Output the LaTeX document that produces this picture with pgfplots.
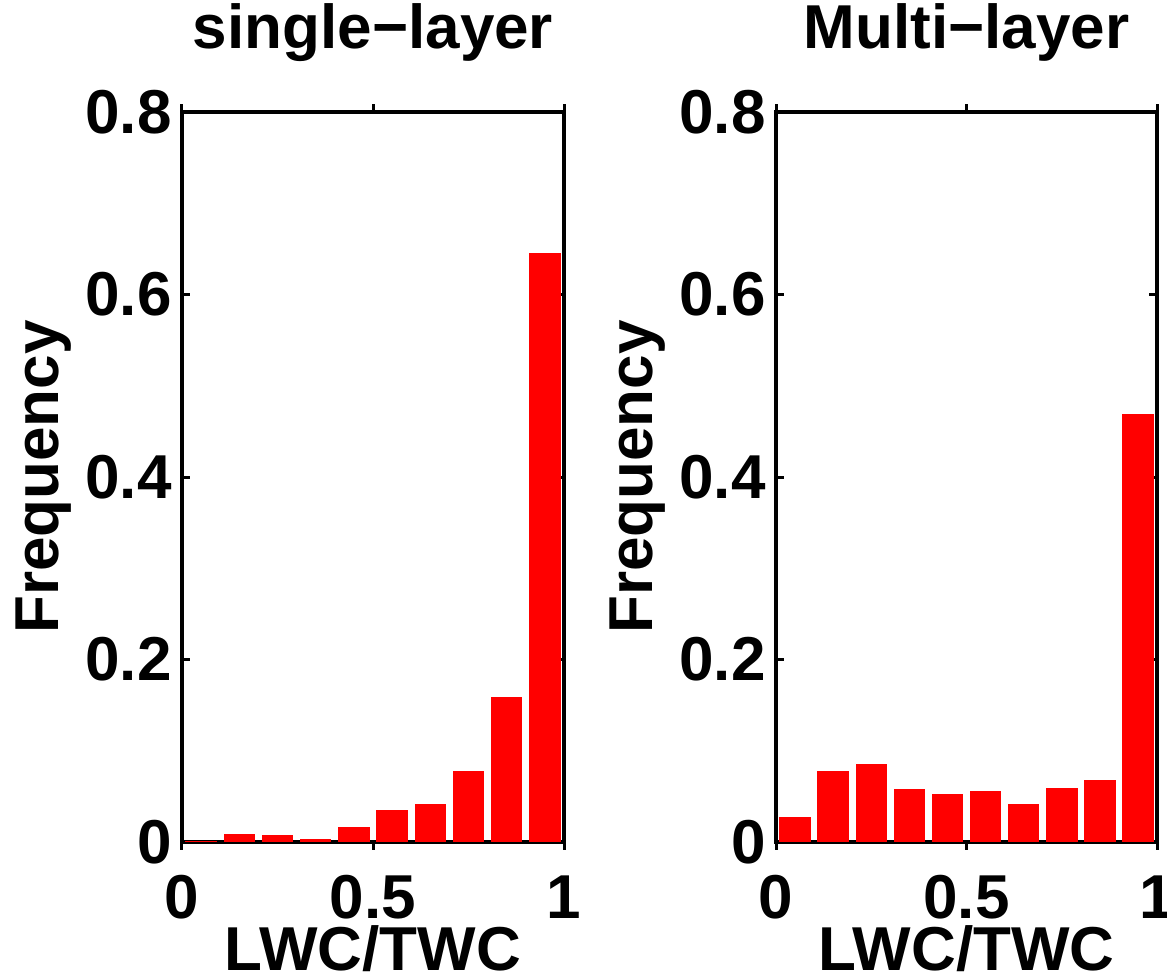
\documentclass[border=0pt]{standalone}
\usepackage{fontspec}
\setmainfont{Liberation Sans}
\usepackage{pgfplots}
\pgfplotsset{compat=1.18}
\newcommand{\bigf}{\fontsize{31}{36}\selectfont\bfseries}
\pgfplotsset{
  hist/.style={
    scale only axis,
    anchor=south west,
    height=365pt,
    xmin=0, xmax=1, ymin=0, ymax=0.8,
    xtick={0,0.5,1}, xticklabels={0,0.5,1},
    ytick={0,0.2,0.4,0.6,0.8}, yticklabels={0,0.2,0.4,0.6,0.8},
    tick align=inside,
    major tick length=4pt,
    axis line style={line width=2pt},
    every tick/.style={black, line width=1.5pt},
    /pgf/number format/assume math mode=true,
    tick label style={font=\bigf, inner sep=0pt},
    xticklabel style={anchor=north, yshift=-12.5pt},
    yticklabel style={anchor=east, xshift=-5pt},
    xlabel={LWC/TWC},
    xlabel style={font=\bigf, inner sep=0pt, at={(axis description cs:0.5,0)}, anchor=north, yshift=-41.5pt},
    ylabel={Frequency},
    ylabel style={font=\bigf, inner sep=0pt, at={([xshift=-55pt]axis description cs:0,0.5)}, rotate=0, anchor=south},
    title style={font=\bigf, inner sep=0pt, at={(axis description cs:0.5,1)}, anchor=base, yshift=26pt},
    ybar, bar width=0.08,
    clip=false,
  }
}
\begin{document}
\begin{tikzpicture}
\useasboundingbox (0,0) rectangle (583.5pt,487pt);
\begin{axis}[hist, at={(91pt,66pt)}, width=191pt, title={single−layer}]
\addplot[fill=red, draw=red, line width=0pt] coordinates {
(0.05,0.001) (0.15,0.0084) (0.25,0.0066) (0.35,0.0025) (0.45,0.016)
(0.55,0.035) (0.65,0.041) (0.75,0.077) (0.85,0.158) (0.95,0.645)};
\end{axis}
\begin{axis}[hist, at={(388pt,66pt)}, width=190.5pt, title={Multi−layer}]
\addplot[fill=red, draw=red, line width=0pt] coordinates {
(0.05,0.027) (0.15,0.077) (0.25,0.085) (0.35,0.057) (0.45,0.052)
(0.55,0.055) (0.65,0.041) (0.75,0.059) (0.85,0.067) (0.95,0.468)};
\end{axis}
\end{tikzpicture}
\end{document}
